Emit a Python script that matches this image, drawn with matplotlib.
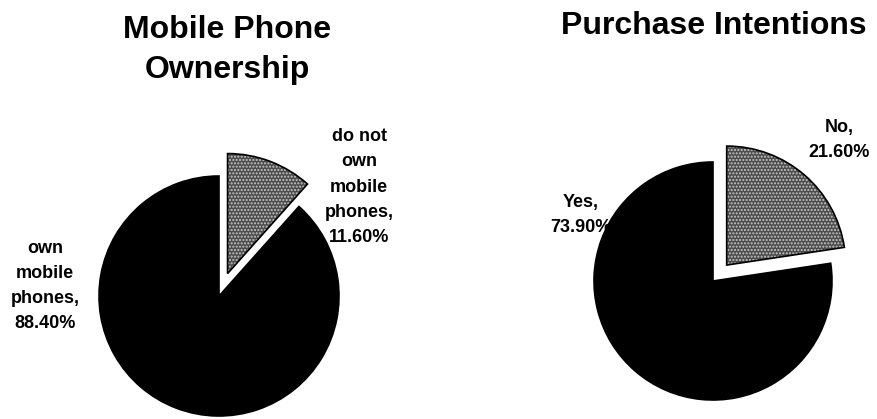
import matplotlib.pyplot as plt

plt.rcParams['font.family'] = ['Liberation Sans', 'DejaVu Sans']
plt.rcParams['hatch.color'] = '#c8c8c8'
plt.rcParams['hatch.linewidth'] = 1.0

# data
own_labels = ['own mobile\nphones', 'do not\nown\nmobile\nphones']
own_values = [88.4, 11.6]
buy_labels = ['Yes', 'No']
buy_values = [73.9, 21.6]

W, H = 877, 419

fig = plt.figure(figsize=(W / 100, H / 100), dpi=100)
ax = fig.add_axes([0, 0, 1, 1])

slice_colors = ['black', '#4c4c4c']


def draw_pie(values, cx, cy, r, explode):
    # fill + speckle first, then a thin black outline on top
    ax.pie(values, center=(cx, H - cy), radius=r, startangle=90,
           explode=explode, colors=slice_colors, hatch=['', '.....'],
           wedgeprops=dict(linewidth=0), frame=True)
    ax.pie(values, center=(cx, H - cy), radius=r, startangle=90,
           explode=explode, colors=slice_colors,
           wedgeprops=dict(edgecolor='black', linewidth=1.2, fill=False),
           frame=True)


# explode is in data units (= pixels here)
draw_pie(own_values, 219, 296, 120, [0, 24])
draw_pie(buy_values, 713, 281, 119, [0, 21])

lbl = dict(fontsize=13, fontweight='bold', ha='center', va='center',
           multialignment='center', linespacing=1.62, zorder=0.5)

ax.text(45, H - 286, f'{own_labels[0].replace(" ", chr(10))},\n{own_values[0]:.2f}%', **lbl)
ax.text(359, H - 187, f'{own_labels[1]},\n{own_values[1]:.2f}%', **lbl)
ax.text(581, H - 215, f'{buy_labels[0]},\n{buy_values[0]:.2f}%', **lbl)
ax.text(839, H - 140, f'{buy_labels[1]},\n{buy_values[1]:.2f}%', **lbl)

ax.text(227, H - 50, 'Mobile Phone\nOwnership', fontsize=23, fontweight='bold',
        ha='center', va='center', linespacing=1.45)
ax.text(714, H - 26, 'Purchase Intentions', fontsize=23, fontweight='bold',
        ha='center', va='center')

ax.set_xlim(0, W)
ax.set_ylim(0, H)
ax.set_aspect('auto')
ax.axis('off')

fig.savefig('out.png', dpi=100, facecolor='white')
